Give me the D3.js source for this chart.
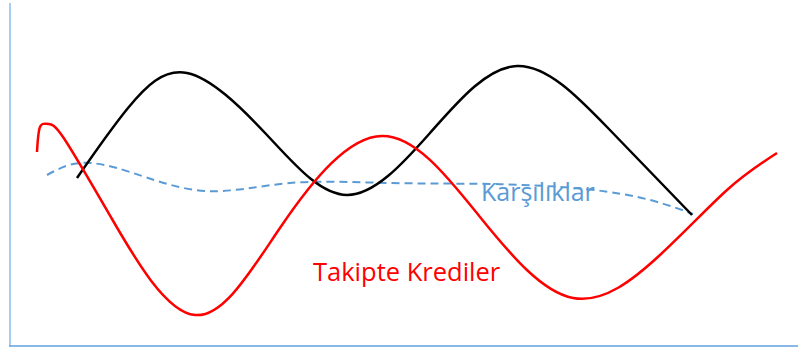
<!DOCTYPE html>
<html lang="tr">
<head>
    <meta charset="utf-8">
    <title>Takipte Krediler ve Karşılıklar</title>
    <script src="https://d3js.org/d3.v7.min.js"></script>
    <style>
        body { margin: 0; background: #fff; }
        svg { display: block; }
    </style>
</head>
<body>
<div id="chart-container"></div>
<script>
    // values (x = time, y = level)
    const blackX = [67, 118, 177, 257, 337, 420, 507, 597, 682];
    const blackY = [168, 238, 273, 211, 151, 213, 280, 219, 131];

    const redX = [27, 30, 38, 53, 102, 185, 272, 372, 470, 563, 650, 717, 767];
    const redY = [194, 219, 222, 209, 127, 31, 121, 210, 129, 48, 91, 156, 193];

    const blueX = [37, 70, 120, 195, 280, 380, 480, 575, 640, 683];
    const blueY = [171, 183, 174, 155, 163, 163, 162, 157, 146, 132];

    const labels = [
        { text: "Karşılıklar", x: 471, y: 145, color: "#5b9bd5", size: 25 },
        { text: "Takipte Krediler", x: 303, y: 65, color: "#ff0000", size: 25.5 }
    ];

    const width = 798;
    const height = 352;

    const svg = d3.select("#chart-container")
        .append("svg")
        .attr("width", width)
        .attr("height", height);

    const xScale = d3.scaleLinear().domain([0, 788]).range([10, 798]);
    const yScale = d3.scaleLinear().domain([0, 343]).range([346, 3]);

    // axes (plain lines, no ticks)
    svg.append("line")
        .attr("x1", xScale(0)).attr("x2", xScale(0))
        .attr("y1", yScale(0)).attr("y2", yScale(343))
        .attr("stroke", "#8dbdeb")
        .attr("stroke-width", 1.5);

    svg.append("line")
        .attr("x1", xScale(0) - 1).attr("x2", xScale(788))
        .attr("y1", yScale(0)).attr("y2", yScale(0))
        .attr("stroke", "#5fa2e0")
        .attr("stroke-width", 1.5);

    const line = d3.line()
        .x(d => xScale(d[0]))
        .y(d => yScale(d[1]))
        .curve(d3.curveNatural);

    svg.append("path")
        .datum(d3.zip(blueX, blueY))
        .attr("fill", "none")
        .attr("stroke", "#5b9bd5")
        .attr("stroke-width", 2)
        .attr("stroke-dasharray", "8,5")
        .attr("d", line);

    svg.append("path")
        .datum(d3.zip(blackX, blackY))
        .attr("fill", "none")
        .attr("stroke", "#000")
        .attr("stroke-width", 2.5)
        .attr("d", line);

    svg.append("path")
        .datum(d3.zip(redX, redY))
        .attr("fill", "none")
        .attr("stroke", "#ff0000")
        .attr("stroke-width", 2.5)
        .attr("d", line);

    svg.selectAll(".label")
        .data(labels)
        .enter()
        .append("text")
        .attr("class", "label")
        .attr("x", d => xScale(d.x))
        .attr("y", d => yScale(d.y))
        .attr("fill", d => d.color)
        .style("font-family", "'Open Sans', sans-serif")
        .style("font-size", d => d.size + "px")
        .text(d => d.text);
</script>
</body>
</html>
